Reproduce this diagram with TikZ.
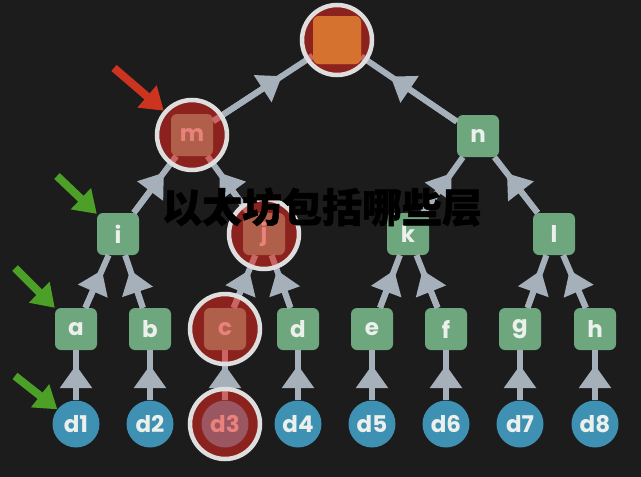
\documentclass[tikz,border=0pt]{standalone}
\usepackage{fontspec}
\newfontfamily\cjk{Noto Sans CJK SC}[BoldFeatures={FakeBold=1.2}]
\newfontfamily\lab{Poppins}
\usetikzlibrary{arrows.meta,calc}
\definecolor{bgc}{RGB}{28,28,28}
\definecolor{nodegreen}{RGB}{110,166,126}
\definecolor{leafblue}{RGB}{62,145,178}
\definecolor{labtext}{RGB}{236,240,236}
\definecolor{edgegray}{RGB}{166,176,186}
\definecolor{hlred}{RGB}{232,40,32}
\definecolor{ringgray}{RGB}{222,222,222}
\definecolor{rootorange}{RGB}{214,114,48}
\definecolor{garrowc}{RGB}{76,160,40}
\definecolor{rarrowc}{RGB}{205,52,32}
\tikzset{
  box/.style={rectangle, rounded corners=6pt, minimum size=42pt, inner sep=0pt,
    fill=nodegreen, text=labtext, font=\lab\bfseries\fontsize{23}{23}\selectfont},
  leaf/.style={circle, minimum size=47pt, inner sep=0pt,
    fill=leafblue, text=labtext, font=\lab\bfseries\fontsize{23}{23}\selectfont},
  rootbox/.style={rectangle, rounded corners=6pt, minimum size=48pt, inner sep=0pt, fill=rootorange},
  edge/.style={line width=6pt, draw=edgegray},
  tipedge/.style={edge, -{Triangle[width=31pt,length=23pt]}},
  hl/.style={circle, minimum size=70pt, inner sep=0pt, fill=hlred, fill opacity=0.55,
    draw=ringgray, draw opacity=1, line width=4.5pt},
  garrow/.style={line width=8pt, draw=garrowc, -{Triangle[width=28pt,length=22pt]}},
  rarrow/.style={line width=8pt, draw=rarrowc, -{Triangle[width=28pt,length=22pt]}},
}
\newcommand{\treeedge}[2]{%
  \draw[edge] (#1) -- (#2);
  \draw[tipedge] (#1) -- ($(#1)!0.62!(#2)$);
}
\begin{document}
\begin{tikzpicture}[x=1pt,y=-1pt]
\fill[bgc] (0,0) rectangle (641,477);
\useasboundingbox (0,0) rectangle (641,477);
% nodes
\node[rootbox] (root) at (337,40) {};
\node[box] (m) at (192,135) {m};
\node[box] (n) at (478,136) {n};
\node[box] (i) at (118,234) {i};
\node[box] (j) at (264,234) {j};
\node[box] (k) at (408,234) {k};
\node[box] (l) at (554,234) {l};
\node[box] (a) at (76,329) {a};
\node[box] (b) at (150,329) {b};
\node[box] (c) at (225,329) {c};
\node[box] (d) at (298,329) {d};
\node[box] (e) at (372,329) {e};
\node[box] (f) at (446,329) {f};
\node[box] (g) at (520,329) {g};
\node[box] (h) at (595,329) {h};
\node[leaf] (d1) at (76,424) {d1};
\node[leaf] (d2) at (150,424) {d2};
\node[leaf] (d3) at (225,424) {d3};
\node[leaf] (d4) at (298,424) {d4};
\node[leaf] (d5) at (372,424) {d5};
\node[leaf] (d6) at (446,424) {d6};
\node[leaf] (d7) at (520,424) {d7};
\node[leaf] (d8) at (595,424) {d8};
% edges
\treeedge{m}{root}
\treeedge{n}{root}
\treeedge{i}{m}
\treeedge{j}{m}
\treeedge{k}{n}
\treeedge{l}{n}
\treeedge{a}{i}
\treeedge{b}{i}
\treeedge{c}{j}
\treeedge{d}{j}
\treeedge{e}{k}
\treeedge{f}{k}
\treeedge{g}{l}
\treeedge{h}{l}
\treeedge{d1}{a}
\treeedge{d2}{b}
\treeedge{d3}{c}
\treeedge{d4}{d}
\treeedge{d5}{e}
\treeedge{d6}{f}
\treeedge{d7}{g}
\treeedge{d8}{h}
% highlight overlays
\node[hl] (root-hl) at (root) {};
\node[hl] (m-hl) at (m) {};
\node[hl] (j-hl) at (j) {};
\node[hl] (c-hl) at (c) {};
\node[hl] (d3-hl) at (d3) {};
\node[rootbox] (root-top) at (root) {};
% pointer arrows
\coordinate (rtail) at (114,68);
\coordinate (gtail1) at (57,176);
\coordinate (gtail2) at (15,268);
\coordinate (gtail3) at (15,376);
\draw[rarrow] (rtail) -- (m-hl);
\draw[garrow] (gtail1) -- (i);
\draw[garrow] (gtail2) -- (a);
\draw[garrow] (gtail3) -- (d1);
% title
\node[font=\cjk\bfseries\fontsize{40}{40}\selectfont, text=black] (title) at (322,207) {以太坊包括哪些层};
\end{tikzpicture}
\end{document}
